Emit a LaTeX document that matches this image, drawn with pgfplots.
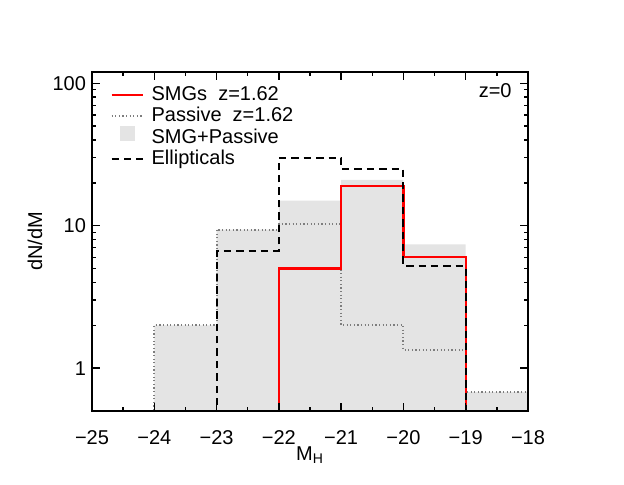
\documentclass[border=0pt]{standalone}
\usepackage{fontspec}
\setmainfont{Liberation Sans}
\usepackage{pgfplots}
\pgfplotsset{compat=1.18}
\definecolor{fillgray}{RGB}{228,228,228}
\definecolor{dotgray}{RGB}{125,125,125}
\begin{document}
\begin{tikzpicture}
\useasboundingbox (-46pt,-37pt) rectangle (266pt,205.5pt);
\begin{axis}[
  at={(0,0)}, anchor=south west,
  scale only axis, width=218pt, height=169.5pt,
  ymode=log, xmin=-25, xmax=-18, ymin=0.5, ymax=120,
  xtick={-25,...,-18},
  xticklabels={−25,−24,−23,−22,−21,−20,−19,−18},
  minor x tick num=1,
  ytick={1,10,100}, yticklabels={1,10,100},
  tick pos=both, tick align=inside,
  major tick length=4pt, minor tick length=2pt,
  every tick/.style={black, line width=0.7pt},
  every minor tick/.style={black, line width=0.7pt},
  axis line style={line width=1pt},
  axis on top,
  font=\fontsize{10}{12}\selectfont,
  xticklabel style={yshift=-6pt},
  yticklabel style={xshift=0.5pt},
  xlabel={M\textsubscript{H}}, ylabel={dN/dM},
  xlabel style={at={(axis description cs:0.5,0)}, anchor=center, yshift=-22pt},
  ylabel style={at={(axis description cs:-0.131,0.5)}, anchor=center},
  legend cell align=left,
  legend image code/.code={\draw[#1] (0pt,0pt) -- (15.5pt,0pt); \path[draw=none] (0pt,0pt) -- (18pt,0pt);},
  legend style={draw=none, fill=none, at={(axis description cs:0,1)}, anchor=north west,
    xshift=6pt, yshift=-3pt, row sep=-2pt, font=\fontsize{10}{12}\selectfont},
]
% SMG+Passive (filled)
\addplot[fill=fillgray, draw=none, const plot mark left, forget plot] coordinates {
  (-24,0.1) (-24,2.0) (-23,9.4) (-22,15) (-21,21) (-20,7.4) (-19,0.68) (-18,0.68) (-18,0.1)
};
% Passive
\addplot[dotgray, line width=1pt, dash pattern=on 0.6pt off 1.2pt, const plot mark left, forget plot] coordinates {
  (-24,0.3) (-24,2.0) (-23,9.4) (-22,10.2) (-21,2.0) (-20,1.34) (-19,0.68) (-18,0.68)
};
% SMGs
\addplot[red, line width=1.2pt, const plot mark left, forget plot] coordinates {
  (-22,0.3) (-22,5.0) (-21,19) (-20,6.0) (-19,0.3)
};
% Ellipticals
\addplot[black, line width=1pt, dash pattern=on 3.7pt off 2.5pt, const plot mark left, forget plot] coordinates {
  (-23,0.3) (-23,6.6) (-22,30) (-21,25) (-20,5.2) (-19,0.3)
};
\addlegendimage{red, line width=1.2pt}
\addlegendentry{SMGs\ \ z=1.62}
\addlegendimage{dotgray, line width=1pt, dash pattern=on 0.6pt off 1.2pt}
\addlegendentry{Passive\ \ z=1.62}
\addlegendimage{draw=none, legend image code/.code={\fill[fillgray, draw=none] (4pt,-0.15em) rectangle (11.5pt,0.6em); \path[draw=none] (0pt,0pt) -- (18pt,0pt);}}
\addlegendentry{SMG+Passive}
\addlegendimage{black, line width=1pt, dash pattern=on 3.7pt off 2.5pt}
\addlegendentry{Ellipticals}
\node[anchor=base east, inner sep=0pt, xshift=-8pt, yshift=-13pt] at (rel axis cs:1,1) {z=0};
\end{axis}
\end{tikzpicture}
\end{document}
